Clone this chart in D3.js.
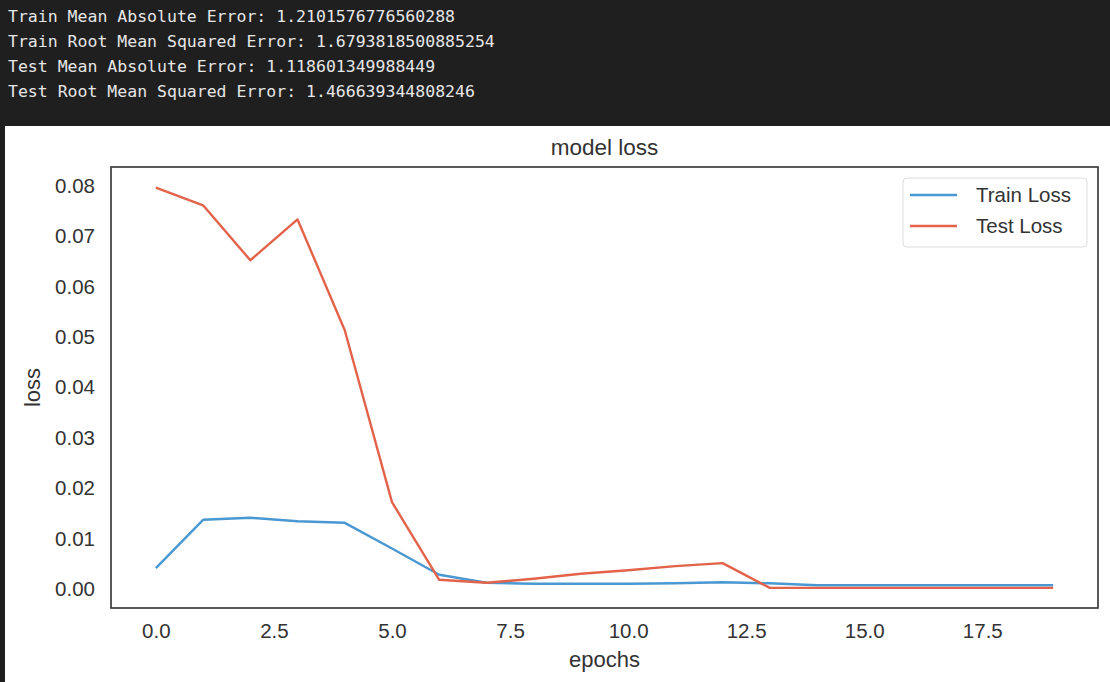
<!DOCTYPE html>
<html>
<head>
<meta charset="utf-8">
<script src="https://cdn.jsdelivr.net/npm/d3@7"></script>
<style>
  html, body { margin: 0; padding: 0; background: #ffffff; }
  svg { display: block; }
</style>
</head>
<body>
<svg id="chart" width="1110" height="682"></svg>
<script>
// ---- data ----
const epochs = [0,1,2,3,4,5,6,7,8,9,10,11,12,13,14,15,16,17,18,19];
const trainLoss = [0.0041,0.0137,0.0141,0.0134,0.0131,0.0080,0.0028,0.0012,0.0010,0.0010,0.0010,0.0011,0.0013,0.0011,0.0007,0.0007,0.0007,0.0007,0.0007,0.0007];
const testLoss  = [0.0796,0.0761,0.0652,0.0733,0.0513,0.0172,0.0018,0.0012,0.0020,0.0030,0.0037,0.0045,0.0051,0.0002,0.0002,0.0002,0.0002,0.0002,0.0002,0.0002];
const xTicks = [0,2.5,5,7.5,10,12.5,15,17.5];
const yTicks = [0,0.01,0.02,0.03,0.04,0.05,0.06,0.07,0.08];
const seriesNames = ["Train Loss","Test Loss"];
const seriesColors = ["#4a98d2","#e3634a"];
const headerLines = [
  "Train Mean Absolute Error: 1.2101576776560288",
  "Train Root Mean Squared Error: 1.6793818500885254",
  "Test Mean Absolute Error: 1.118601349988449",
  "Test Root Mean Squared Error: 1.466639344808246"
];
const title = "model loss";
const xLabel = "epochs";
const yLabel = "loss";

// ---- drawing ----
const svg = d3.select("#chart");
const W = 1110, H = 682;

// notebook output header
svg.append("rect").attr("x",0).attr("y",0).attr("width",W).attr("height",126).attr("fill","#1f1f1f");
svg.append("rect").attr("x",0).attr("y",126).attr("width",5).attr("height",H-126).attr("fill","#1f1f1f");
svg.selectAll("text.hdr").data(headerLines).enter().append("text")
  .attr("class","hdr")
  .attr("x",8)
  .attr("y",(d,i)=>22 + i*25)
  .attr("fill","#e6e6e6")
  .attr("font-family","'DejaVu Sans Mono', 'Liberation Mono', monospace")
  .attr("font-size","16.5px")
  .text(d=>d);

// plot area
const plot = {left:111, right:1098, top:167, bottom:608};
const x = d3.scaleLinear().domain([-0.95,19.95]).range([plot.left, plot.right]);
const y = d3.scaleLinear().domain([-0.0038,0.0837]).range([plot.bottom, plot.top]);

const font = "Arial, 'Liberation Sans', Helvetica, sans-serif";
const textColor = "#333333";

// axes (labels only, no tick marks)
const xAxis = d3.axisBottom(x).tickValues(xTicks).tickSize(0).tickPadding(15)
  .tickFormat(d3.format(".1f"));
const yAxis = d3.axisLeft(y).tickValues(yTicks).tickSize(0).tickPadding(16)
  .tickFormat(d3.format(".2f"));

const gx = svg.append("g").attr("transform",`translate(0,${plot.bottom})`).call(xAxis);
const gy = svg.append("g").attr("transform",`translate(${plot.left},0)`).call(yAxis);
[gx, gy].forEach(g => {
  g.select(".domain").remove();
  g.selectAll("text").attr("font-family",font).attr("font-size","20.5px").attr("fill",textColor);
});

// lines
const line = d3.line().x((d,i)=>x(epochs[i])).y(d=>y(d));
[trainLoss, testLoss].forEach((s,k) => {
  svg.append("path").datum(s)
    .attr("d",line)
    .attr("fill","none")
    .attr("stroke",seriesColors[k])
    .attr("stroke-width",2.4)
    .attr("stroke-linejoin","round");
});

// spines
svg.append("rect")
  .attr("x",plot.left).attr("y",plot.top)
  .attr("width",plot.right-plot.left).attr("height",plot.bottom-plot.top)
  .attr("fill","none").attr("stroke","#3c3c3c").attr("stroke-width",1.7);

// title & labels
svg.append("text").attr("x",(plot.left+plot.right)/2).attr("y",155)
  .attr("text-anchor","middle").attr("font-family",font).attr("font-size","22.5px")
  .attr("fill",textColor).text(title);
svg.append("text").attr("x",(plot.left+plot.right)/2).attr("y",667)
  .attr("text-anchor","middle").attr("font-family",font).attr("font-size","22px")
  .attr("fill",textColor).text(xLabel);
svg.append("text").attr("transform",`translate(40,${(plot.top+plot.bottom)/2}) rotate(-90)`)
  .attr("text-anchor","middle").attr("font-family",font).attr("font-size","22px")
  .attr("fill",textColor).text(yLabel);

// legend
const lg = svg.append("g").attr("transform","translate(903,178)");
lg.append("rect").attr("x",0).attr("y",0).attr("width",184).attr("height",69)
  .attr("rx",4).attr("fill","#ffffff").attr("stroke","#dcdcdc").attr("stroke-width",1);
seriesNames.forEach((n,i) => {
  const yy = 17 + i*31;
  lg.append("line").attr("x1",7).attr("x2",54).attr("y1",yy).attr("y2",yy)
    .attr("stroke",seriesColors[i]).attr("stroke-width",2.4);
  lg.append("text").attr("x",73).attr("y",yy+7).attr("font-family",font)
    .attr("font-size","20.5px").attr("fill",textColor).text(n);
});
</script>
</body>
</html>
